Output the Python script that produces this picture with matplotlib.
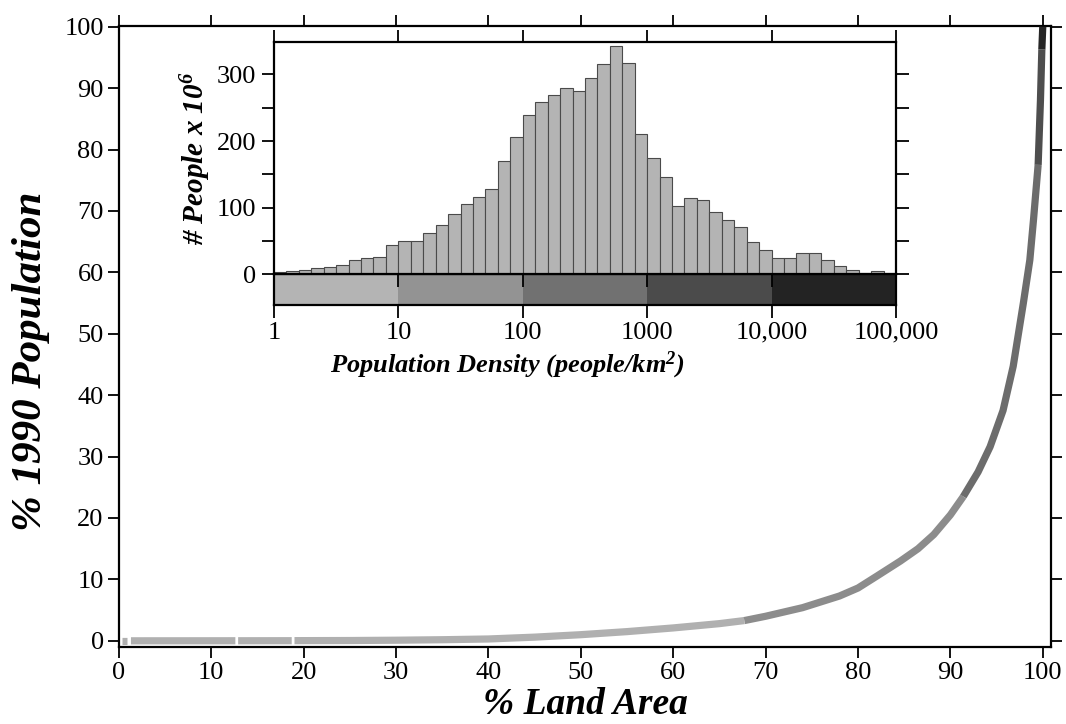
import matplotlib
matplotlib.use("Agg")
import matplotlib.pyplot as plt
from matplotlib.ticker import MultipleLocator, FixedLocator, NullLocator
import numpy as np

plt.rcParams['font.family'] = ['Liberation Serif', 'DejaVu Serif']
plt.rcParams['mathtext.fontset'] = 'custom'
plt.rcParams['mathtext.rm'] = 'Liberation Serif:bold:italic'
plt.rcParams['mathtext.it'] = 'Liberation Serif:bold:italic'

# --- cumulative curve: % land area vs % 1990 population ---
land_pct = [0.3, 0.9,
            1.3, 12.6,
            12.9, 18.7,
            19.0, 25, 30, 35, 40, 45, 50, 55, 60, 65, 67.7,
            70, 74, 78, 80, 82, 84.6, 86.5, 88.2, 90, 91.4,
            93, 94.3, 95.7, 96.8, 97.9, 98.6, 99.0, 99.5,
            99.75, 99.9,
            100.0]
pop_pct = [0.0, 0.0,
           0.0, 0.01,
           0.01, 0.02,
           0.03, 0.05, 0.1, 0.18, 0.3, 0.6, 1.0, 1.5, 2.1, 2.8, 3.3,
           4.0, 5.4, 7.3, 8.6, 10.5, 13.0, 15.0, 17.3, 20.5, 23.5,
           27.5, 31.6, 37.5, 44.7, 55.0, 62.0, 68.6, 77.5,
           88.0, 96.3,
           100.0]
# curve pieces: (land from, land to, density class)
pieces = [(0.3, 0.9, 0), (1.3, 12.6, 0), (12.9, 18.7, 0), (19.0, 67.7, 0),
          (67.7, 91.4, 1), (91.4, 99.5, 2), (99.5, 99.9, 3), (99.9, 100.0, 4)]

# --- inset histogram: people (millions) per log-density bin, 10 bins per decade ---
people_millions = [3, 4.5, 7, 9, 11, 14, 21.5, 25, 25.5, 43.5,
                   50, 50.5, 62, 74, 90.5, 105, 115.5, 127.5, 169.5, 206,
                   239, 258.5, 268.5, 280, 275, 294.5, 316, 342.5, 317, 211,
                   175, 145.5, 102.5, 114, 111.5, 94, 81.5, 71.5, 48, 37,
                   24, 25, 32.5, 32.5, 21.5, 13, 7, 2.5, 4.5, 1.5]
class_edges = [1, 10, 100, 1000, 10000, 100000]
decade_labels = ["1", "10", "100", "1000", "10,000", "100,000"]
class_colors = ["#b4b4b4", "#939393", "#717171", "#4b4b4b", "#232323"]
curve_colors = ["#b0b0b0", "#8c8c8c", "#6c6c6c", "#4e4e4e", "#262626"]

fig = plt.figure(figsize=(10.66, 7.24), dpi=100)

# main axes
ax = fig.add_axes([0.1116, 0.1064, 0.8744, 0.8576])
land = np.array(land_pct)
pop = np.array(pop_pct)
for lo, hi, cls in pieces:
    sel = (land >= lo) & (land <= hi)
    ax.plot(land[sel], pop[sel], color=curve_colors[cls], lw=5.2,
            solid_capstyle='butt', solid_joinstyle='round', zorder=3)

ax.set_xlim(0, 100.9)
ax.set_ylim(-1, 100.1)
ax.xaxis.set_major_locator(MultipleLocator(10))
ax.yaxis.set_major_locator(MultipleLocator(10))
ax.tick_params(direction='out', length=8, width=1.3, top=True, right=True,
               labelsize=19, pad=3)
for s in ax.spines.values():
    s.set_linewidth(1.6)
ax.set_xlabel("% Land Area", fontsize=27, fontweight='bold', style='italic',
              labelpad=2)
ax.set_ylabel("% 1990 Population", fontsize=31, fontweight='bold',
              style='italic')
ax.yaxis.set_label_coords(-0.074, 0.46)

# inset: colour strip under the histogram
bin_edges = 10 ** (np.arange(len(people_millions) + 1) / 10.0)
ax_strip = fig.add_axes([0.257, 0.5787, 0.5835, 0.0424])
ax_strip.set_xscale('log')
for i, c in enumerate(class_colors):
    ax_strip.axvspan(class_edges[i], class_edges[i + 1], color=c, lw=0)
ax_strip.set_xlim(1, 1e5)
ax_strip.set_ylim(0, 1)
ax_strip.yaxis.set_major_locator(NullLocator())
ax_strip.xaxis.set_major_locator(FixedLocator(class_edges))
ax_strip.xaxis.set_minor_locator(NullLocator())
ax_strip.set_xticklabels(decade_labels)
ax_strip.tick_params(direction='out', length=9, width=1.3, labelsize=19, pad=3)
for s in ax_strip.spines.values():
    s.set_linewidth(1.6)
ax_strip.set_xlabel("Population Density (people/km$^{2}$)", fontsize=19,
                    fontweight='bold', style='italic')
ax_strip.xaxis.set_label_coords(0.375, -1.45)

# inset: histogram
ax_in = fig.add_axes([0.257, 0.6211, 0.5835, 0.3213])
ax_in.set_xscale('log')
ax_in.bar(bin_edges[:-1], people_millions, width=np.diff(bin_edges),
          align='edge', color='#b4b4b4', edgecolor='#4a4a4a', linewidth=0.8)
ax_in.set_xlim(1, 1e5)
ax_in.set_ylim(0, 349)
ax_in.xaxis.set_major_locator(FixedLocator(class_edges))
ax_in.xaxis.set_minor_locator(NullLocator())
ax_in.yaxis.set_major_locator(MultipleLocator(100))
ax_in.yaxis.set_minor_locator(MultipleLocator(50))
ax_in.tick_params(which='both', direction='out', length=9, width=1.3,
                  top=True, right=True, labelbottom=False, labelsize=19, pad=4)
for s in ax_in.spines.values():
    s.set_linewidth(1.6)
ax_in.set_ylabel("# People x 10$^{6}$", fontsize=21, fontweight='bold',
                 style='italic')
ax_in.yaxis.set_label_coords(-0.098, 0.5)

fig.savefig("out.png", dpi=100)
